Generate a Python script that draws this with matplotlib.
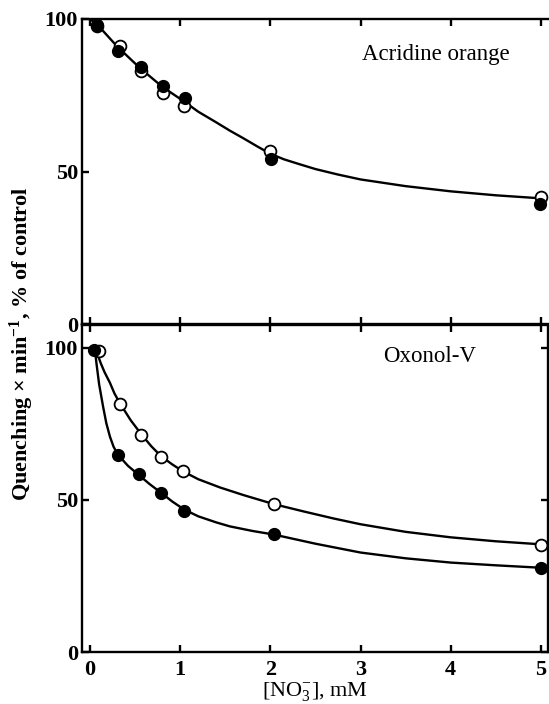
import matplotlib
matplotlib.use("Agg")
import matplotlib.pyplot as plt

plt.rcParams['font.family'] = ['Liberation Serif', 'DejaVu Serif']
plt.rcParams['mathtext.fontset'] = 'custom'
plt.rcParams['mathtext.rm'] = 'Liberation Serif'
plt.rcParams['mathtext.it'] = 'Liberation Serif:italic'
plt.rcParams['mathtext.bf'] = 'Liberation Serif:bold'

# ---- Data: Acridine orange (top panel) ----
ao_x_open = [0.08, 0.33, 0.56, 0.81, 1.04, 2.0, 5.0]
ao_y_open = [97.7, 91.0, 83.0, 75.7, 71.4, 56.6, 41.8]
ao_x_filled = [0.08, 0.31, 0.56, 0.81, 1.05, 2.01, 4.99]
ao_y_filled = [98.0, 89.5, 84.2, 78.0, 74.0, 54.0, 39.5]
ao_curve_x = [0.0, 0.1, 0.3, 0.55, 0.8, 1.05, 1.2, 1.4, 1.55, 1.7, 1.85, 2.0, 2.15, 2.3,
              2.5, 2.75, 3.0, 3.5, 4.0, 4.5, 5.0]
ao_curve_y = [100.0, 97.5, 91.0, 84.0, 77.8, 72.8, 69.6, 66.1, 63.4, 60.9, 58.3, 55.8, 54.0,
              52.6, 50.8, 49.0, 47.4, 45.2, 43.5, 42.2, 41.2]

# ---- Data: Oxonol-V (bottom panel) ----
ox_x_open = [0.1, 0.33, 0.57, 0.79, 1.03, 2.04, 5.0]
ox_y_open = [99.0, 81.5, 71.3, 64.0, 59.4, 48.6, 35.3]
ox_x_filled = [0.04, 0.31, 0.54, 0.79, 1.04, 2.04, 5.0]
ox_y_filled = [99.3, 64.7, 58.4, 52.4, 46.5, 38.8, 27.7]
ox_open_curve_x = [0.05, 0.08, 0.12, 0.16, 0.22, 0.27, 0.33, 0.45, 0.57, 0.68, 0.79, 0.91,
                   1.03, 1.2, 1.44, 1.7, 2.04, 2.37, 2.7, 3.0, 3.5, 4.0, 4.5, 5.0]
ox_open_curve_y = [100.0, 98.0, 94.8, 92.0, 88.5, 85.0, 81.8, 76.2, 71.5, 67.6, 64.3, 61.7,
                   59.4, 56.8, 54.1, 51.6, 48.6, 46.2, 43.9, 42.0, 39.5, 37.7, 36.4, 35.4]
ox_filled_curve_x = [0.05, 0.07, 0.1, 0.145, 0.18, 0.22, 0.26, 0.31, 0.42, 0.54, 0.66, 0.79,
                     0.91, 1.04, 1.2, 1.4, 1.55, 1.8, 2.04, 2.5, 3.0, 3.5, 4.0, 4.5, 5.0]
ox_filled_curve_y = [100.0, 95.0, 88.0, 80.5, 75.2, 70.8, 67.5, 64.8, 61.2, 58.2, 55.2, 52.3,
                     49.5, 46.9, 44.6, 42.6, 41.3, 39.8, 38.6, 35.6, 32.7, 30.8, 29.4, 28.5, 27.7]

x_ticks = [0, 1, 2, 3, 4, 5]
y_ticks = [0, 50, 100]

W, H = 549, 704
fig = plt.figure(figsize=(W / 100, H / 100), dpi=100)

left = 82 / W
width = (548 - 82) / W
ax1 = fig.add_axes([left, 1 - 324 / H, width, (324 - 19) / H])
ax2 = fig.add_axes([left, 1 - 652 / H, width, (652 - 325) / H])

xlim = (-0.09, 5.08)
lw = 1.7
ms = 8.5

for ax in (ax1, ax2):
    ax.set_xlim(*xlim)
    for s in ax.spines.values():
        s.set_linewidth(lw)
    ax.set_xticks(x_ticks)
    ax.set_yticks(y_ticks)
    ax.tick_params(direction='in', length=5, width=lw, labelsize=16, pad=3)
    for lab in ax.get_xticklabels() + ax.get_yticklabels():
        lab.set_fontweight('bold')

# Top panel
ax1.set_ylim(0, 100)
ax1.spines['right'].set_visible(False)
ax1.tick_params(axis='x', top=True, bottom=True, labelbottom=False)
ax1.plot(ao_curve_x, ao_curve_y, color='black', lw=1.7, zorder=2)
ax1.plot(ao_x_open, ao_y_open, 'o', ms=ms, mfc='white', mec='black', mew=1.3, zorder=3)
ax1.plot(ao_x_filled, ao_y_filled, 'o', ms=ms, mfc='black', mec='black', zorder=4)
ax1.text(0.76, 0.885, 'Acridine orange', transform=ax1.transAxes, ha='center',
         va='center', fontsize=16.5)

# Bottom panel
ax2.set_ylim(0, 107.5)
ax2.tick_params(axis='x', top=True, bottom=True, pad=6)
ax2.tick_params(axis='y', right=True, left=True)
ax2.plot(ox_open_curve_x, ox_open_curve_y, color='black', lw=1.7, zorder=2)
ax2.plot(ox_filled_curve_x, ox_filled_curve_y, color='black', lw=1.7, zorder=2)
ax2.plot(ox_x_open, ox_y_open, 'o', ms=ms, mfc='white', mec='black', mew=1.3, zorder=3)
ax2.plot(ox_x_filled, ox_y_filled, 'o', ms=ms, mfc='black', mec='black', zorder=4)
ax2.text(0.745, 0.905, 'Oxonol-V', transform=ax2.transAxes, ha='center',
         va='center', fontsize=16.5)
ax2.set_xlabel(r'[NO$_3^{-}$], mM', fontsize=16, labelpad=0)

fig.text(22 / W, 1 - 344 / H, r'Quenching × min$^{\mathbf{-1}}$, % of control',
         rotation=90, ha='center', va='center', fontsize=16, fontweight='bold')

fig.savefig('out.png', dpi=100)
